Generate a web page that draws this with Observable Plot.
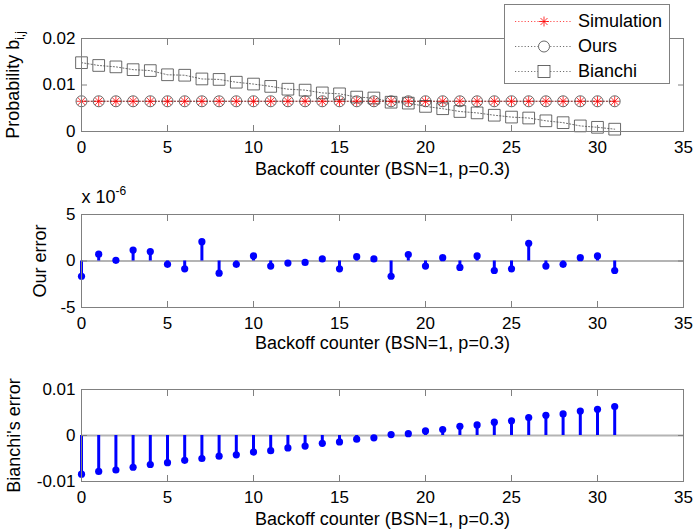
<!DOCTYPE html>
<html><head><meta charset="utf-8">
<script src="https://cdn.jsdelivr.net/npm/d3@7"></script>
<script src="https://cdn.jsdelivr.net/npm/@observablehq/plot@0.6"></script>
<style>
body{margin:0;background:#fff;}
#wrap{position:relative;width:694px;height:532px;font-family:"Liberation Sans",Arial,Helvetica,sans-serif;background:#fff;overflow:hidden;}
#wrap svg{display:block;}
#legend{position:absolute;left:504px;top:4px;width:166px;height:80px;border:1px solid #808080;background:#fff;box-sizing:border-box;font-size:18px;color:#000;}
#legend .row{position:absolute;left:0;height:24px;display:flex;align-items:center;}
#legend svg{display:block;}
</style></head><body><div id="wrap"><div id="plots"></div><div id="legend"></div></div>
<script>
// ---- data ----
const counters = [0,1,2,3,4,5,6,7,8,9,10,11,12,13,14,15,16,17,18,19,20,21,22,23,24,25,26,27,28,29,30,31];
const simulation = [0.0065,0.0065,0.0065,0.0065,0.0065,0.0065,0.0065,0.0065,0.0065,0.0065,0.0065,0.0065,0.0065,0.0065,0.0065,0.0065,0.0065,0.0065,0.0065,0.0065,0.0065,0.0065,0.0065,0.0065,0.0065,0.0065,0.0065,0.0065,0.0065,0.0065,0.0065,0.0065];
const ours = [0.0065,0.0065,0.0065,0.0065,0.0065,0.0065,0.0065,0.0065,0.0065,0.0065,0.0065,0.0065,0.0065,0.0065,0.0065,0.0065,0.0065,0.0065,0.0065,0.0065,0.0065,0.0065,0.0065,0.0065,0.0065,0.0065,0.0065,0.0065,0.0065,0.0065,0.0065,0.0065];
const bianchi = [0.0148,0.0142,0.0139,0.0133,0.0131,0.0122,0.0121,0.0113,0.0112,0.0106,0.0102,0.0097,0.0091,0.0089,0.0083,0.0081,0.0074,0.0072,0.0063,0.0061,0.0054,0.0049,0.0043,0.0040,0.0035,0.0031,0.0029,0.0023,0.0019,0.0012,0.0009,0.0005];
// our error, in units of 1e-6
const ourError = [-1.64,0.73,0.07,1.17,1.02,-0.36,-0.84,2.08,-1.31,-0.36,0.55,-0.55,-0.22,-0.15,0.22,-0.84,0.47,0.22,-1.64,0.69,-0.55,0.36,-0.69,0.55,-1.02,-0.84,1.90,-0.55,-0.36,0.36,0.55,-1.02];
const bianchiError = [-0.0084,-0.0078,-0.0075,-0.0069,-0.0063,-0.0059,-0.0054,-0.0050,-0.0045,-0.0042,-0.0036,-0.0033,-0.0027,-0.0023,-0.0017,-0.0014,-0.0008,-0.0005,0.0002,0.0004,0.0010,0.0013,0.0020,0.0023,0.0029,0.0032,0.0039,0.0044,0.0047,0.0053,0.0057,0.0063];
const xTicks = [0,5,10,15,20,25,30,35];
const yTicks1 = [0,0.01,0.02];
const yTicks2 = [-5,0,5];
const yTicks3 = [-0.01,0,0.01];
const xLabel = "Backoff counter (BSN=1, p=0.3)";
const seriesNames = ["Simulation","Ours","Bianchi"];

const rows = counters.map((c,i)=>({c, sim: simulation[i], ours: ours[i], bianchi: bianchi[i], oe: ourError[i], be: bianchiError[i]}));

const FONT = '"Liberation Sans", Arial, Helvetica, sans-serif';
const AX = "#808080";
const BLUE = "#0000ff";

function axes(yTicks, ylabel, ylabelDx, xlabelDy) {
  return [
    Plot.frame({stroke: AX}),
    Plot.axisX(xTicks, {anchor: "bottom", tickSize: -6, tickPadding: 15, stroke: AX, fill: "#000", tickFormat: d => String(d), label: null}),
    Plot.axisX(xTicks, {anchor: "top", tickSize: -6, stroke: AX, tickFormat: () => "", label: null}),
    Plot.axisY(yTicks, {anchor: "left", tickSize: -6, tickPadding: 12, stroke: AX, fill: "#000", tickFormat: d => String(d), label: null}),
    Plot.axisY(yTicks, {anchor: "right", tickSize: -6, stroke: AX, tickFormat: () => "", label: null}),
    Plot.text([xLabel], {frameAnchor: "bottom", dy: xlabelDy, lineAnchor: "middle", textAnchor: "middle", fill: "#000", fontSize: 18}),
    Plot.text([ylabel], {frameAnchor: "left", dx: -ylabelDx, rotate: -90, lineAnchor: "middle", textAnchor: "middle", fill: "#000", fontSize: 18})
  ];
}

function base(height, marginTop, marginBottom, yDomain, marks) {
  return Plot.plot({
    width: 694, height, marginLeft: 81, marginRight: 11, marginTop, marginBottom,
    style: {fontFamily: FONT, fontSize: "17px", color: "#000", background: "transparent", overflow: "visible"},
    x: {domain: [0, 35]},
    y: {domain: yDomain},
    marks
  });
}

const p1 = base(180, 38, 49, [0, 0.02], [
  Plot.line(rows, {x: "c", y: "sim", stroke: "#ff0000", strokeWidth: 0.7, strokeDasharray: "1.2,2"}),
  Plot.line(rows, {x: "c", y: "ours", stroke: "#333", strokeWidth: 0.7, strokeDasharray: "1.2,2"}),
  Plot.line(rows, {x: "c", y: "bianchi", stroke: "#333", strokeWidth: 0.7, strokeDasharray: "1.2,2"}),
  Plot.dot(rows, {x: "c", y: "sim", symbol: "plus", r: 3.4, stroke: "#ff0000", strokeWidth: 0.8}),
  Plot.dot(rows, {x: "c", y: "sim", symbol: "times", r: 3.4, stroke: "#ff0000", strokeWidth: 0.8}),
  Plot.dot(rows, {x: "c", y: "ours", r: 5.5, stroke: "#444", strokeWidth: 0.8, fill: "none"}),
  Plot.dot(rows, {x: "c", y: "bianchi", symbol: "square", r: 6.6, stroke: "#444", strokeWidth: 0.8, fill: "none"}),
  ...axes(yTicks1, "Probability bi,j", 68, 38)
]);

const p2 = base(177, 34, 50, [-5, 5], [
  Plot.ruleY([0], {stroke: "#b4b4b4", strokeWidth: 2}),
  Plot.ruleX(rows, {x: "c", y1: 0, y2: "oe", stroke: BLUE, strokeWidth: 3}),
  Plot.dot(rows, {x: "c", y: "oe", r: 3.6, fill: BLUE}),
  Plot.text(["x 10-6"], {frameAnchor: "top-left", dy: -12, textAnchor: "start", lineAnchor: "bottom", fill: "#000", fontSize: 18}),
  ...axes(yTicks2, "Our error", 41, 36)
]);

const p3 = base(175, 32, 51, [-0.01, 0.01], [
  Plot.ruleY([0], {stroke: "#b4b4b4", strokeWidth: 2}),
  Plot.ruleX(rows, {x: "c", y1: 0, y2: "be", stroke: BLUE, strokeWidth: 3}),
  Plot.dot(rows, {x: "c", y: "be", r: 3.6, fill: BLUE}),
  ...axes(yTicks3, "Bianchi's error", 67, 38)
]);

const host = document.getElementById("plots");
[p1, p2, p3].forEach(p => host.appendChild(p));

// sub/superscripts
d3.selectAll("#plots text").each(function() {
  if (this.textContent === "Probability bi,j") {
    this.textContent = "Probability b";
    d3.select(this).append("tspan").attr("dy", "5").attr("font-size", "12px").text("i,j");
  } else if (this.textContent === "x 10-6") {
    this.textContent = "x 10";
    d3.select(this).append("tspan").attr("dy", "-8").attr("font-size", "12px").text("-6");
  }
});

// legend
const legend = d3.select("#legend");
seriesNames.forEach((name, i) => {
  const row = legend.append("div").attr("class", "row").style("top", (4 + i * 25) + "px");
  const svg = row.append("svg").attr("width", 72).attr("height", 24);
  const color = i === 0 ? "#ff0000" : "#444";
  svg.append("line").attr("x1", 10).attr("x2", 66).attr("y1", 12.5).attr("y2", 12.5)
    .attr("stroke", i === 0 ? "#ff0000" : "#333").attr("stroke-width", 0.7).attr("stroke-dasharray", "1.2,2");
  if (i === 0) {
    svg.append("path").attr("d", "M39,7.5V17.5M34,12.5H44M35.5,9L42.5,16M35.5,16L42.5,9").attr("stroke", color).attr("stroke-width", 0.8).attr("fill", "none");
  } else if (i === 1) {
    svg.append("circle").attr("cx", 39).attr("cy", 12.5).attr("r", 5.5).attr("stroke", color).attr("stroke-width", 0.8).attr("fill", "#fff");
  } else {
    svg.append("rect").attr("x", 33).attr("y", 6.5).attr("width", 12).attr("height", 12).attr("stroke", color).attr("stroke-width", 0.8).attr("fill", "#fff");
  }
  row.append("span").style("margin-left", "1px").text(name);
});
</script>
</body></html>
